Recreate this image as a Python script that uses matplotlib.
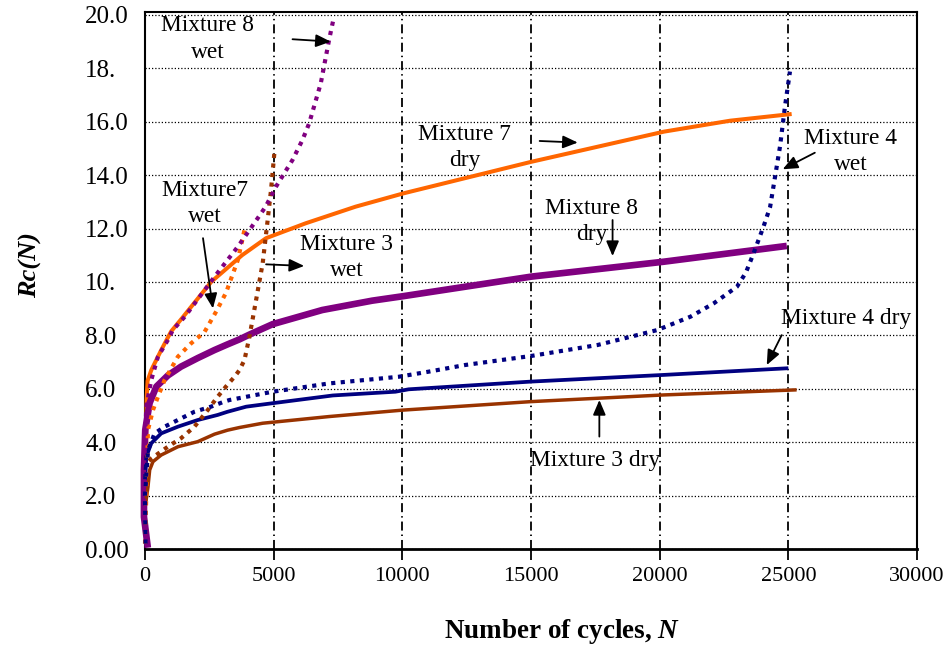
import matplotlib
matplotlib.use("Agg")
import matplotlib.pyplot as plt

plt.rcParams["font.family"] = "Liberation Serif"
plt.rcParams["mathtext.fontset"] = "custom"
plt.rcParams["mathtext.rm"] = "Liberation Serif"
plt.rcParams["mathtext.it"] = "Liberation Serif:italic"
plt.rcParams["mathtext.bf"] = "Liberation Serif:bold"
plt.rcParams["mathtext.bfit"] = "Liberation Serif:italic:bold"

# ---- data: number of cycles N and Rc(N) -------------------------------
m7_dry_n = [40, 60, 100, 244, 630, 1017, 1419, 2579, 3770, 4705, 6251, 8184,
            10050, 15012, 20169, 22743, 25129]
m7_dry_rc = [3.5, 5.6, 6.3, 6.7, 7.45, 8.15, 8.62, 10.01, 11.0, 11.64, 12.2, 12.82,
             13.32, 14.5, 15.63, 16.04, 16.29]

m8_dry_n = [110, -40, -40, 10, 180, 440, 890, 1400, 2050, 2700, 3200, 3670, 4060,
            4960, 6890, 8830, 10050, 15010, 20170, 24940]
m8_dry_rc = [0.05, 1.2, 2.96, 4.46, 5.47, 6.08, 6.5, 6.83, 7.15, 7.45, 7.66, 7.85, 8.03,
             8.42, 8.95, 9.3, 9.47, 10.2, 10.76, 11.35]

m4_dry_n = [0, 50, 244, 630, 1276, 2049, 2822, 3209, 3932, 4960, 7300, 9731, 10245,
            15012, 20169, 25001]
m4_dry_rc = [2.6, 3.46, 3.96, 4.33, 4.58, 4.83, 5.02, 5.14, 5.33, 5.46, 5.75, 5.89,
             5.98, 6.27, 6.52, 6.77]

m3_dry_n = [40, 116, 182, 309, 630, 1280, 2050, 2700, 3209, 3673, 4573, 7152, 10000,
            15012, 20169, 25322]
m3_dry_rc = [1.8, 2.33, 2.96, 3.27, 3.52, 3.83, 4.02, 4.3, 4.45, 4.55, 4.71, 4.96, 5.2,
             5.52, 5.77, 5.96]

m8_wet_n = [50, -40, -40, 50, 244, 503, 889, 1082, 1546, 2706, 3607, 4512, 4705, 5091,
            5733, 6120, 6379, 6831, 7152, 7345]
m8_wet_rc = [0.3, 1.5, 3.0, 5.33, 6.33, 7.2, 7.83, 8.2, 8.7, 10.2, 11.32, 12.57, 12.85,
             13.57, 14.57, 15.32, 15.94, 17.44, 19.06, 19.94]

m7_wet_n = [0, 50, 116, 309, 503, 762, 1276, 1790, 2308, 2770, 3150, 3607, 3866]
m7_wet_rc = [0.2, 2.0, 4.46, 5.2, 5.7, 6.33, 7.2, 7.7, 8.12, 8.9, 9.6, 10.82, 11.95]

m3_wet_n = [150, 259, 889, 1403, 1921, 2436, 2822, 3143, 3479, 3673, 3866, 4059, 4318,
            4573, 4767, 4898, 5026]
m3_wet_rc = [3.3, 3.4, 3.83, 4.15, 4.58, 5.2, 5.7, 6.08, 6.45, 6.7, 7.08, 7.95, 9.33,
             10.7, 12.32, 13.45, 14.82]

m4_wet_n = [20, 0, 116, 375, 762, 1276, 1921, 2563, 3081, 3286, 4960, 7152, 9858, 11018,
            12437, 15012, 17590, 18877, 19910, 21197, 22102, 23002, 23350, 23648, 24034,
            24290, 24421, 24676, 24869, 25063]
m4_wet_rc = [0.2, 2.0, 3.7, 4.33, 4.58, 4.83, 5.14, 5.33, 5.52, 5.58, 5.89, 6.2, 6.45,
             6.64, 6.89, 7.23, 7.64, 7.95, 8.2, 8.7, 9.2, 9.82, 10.35, 11.07, 12.07, 12.8,
             13.57, 15.07, 16.57, 17.88]

x_ticks = [0, 5000, 10000, 15000, 20000, 25000, 30000]
x_tick_labels = ["0", "5000", "10000", "15000", "20000", "25000", "30000"]
y_ticks = [0, 2, 4, 6, 8, 10, 12, 14, 16, 18, 20]
y_tick_labels = ["0.00", "2.0", "4.0", "6.0", "8.0", "10.", "12.0", "14.0", "16.0",
                 "18.", "20.0"]

ORANGE = "#FF6600"
PURPLE = "#800080"
NAVY = "#000080"
BROWN = "#993300"

# ---- figure -------------------------------------------------------------
fig = plt.figure(figsize=(9.47, 6.46), dpi=100)
ax = fig.add_axes([145 / 947, 1 - 549 / 646, 772 / 947, 537 / 646])
ax.set_xlim(0, 30000)
ax.set_ylim(0, 20.11)

solid = dict(solid_capstyle="butt", solid_joinstyle="round", clip_on=False, zorder=3)
dotted = dict(linestyle=(0, (1, 1.3)), dash_capstyle="butt", clip_on=False, zorder=4)

ax.plot(m7_dry_n, m7_dry_rc, color=ORANGE, lw=2.9, **solid)
ax.plot(m8_dry_n, m8_dry_rc, color=PURPLE, lw=4.8, **solid)
ax.plot(m4_dry_n, m4_dry_rc, color=NAVY, lw=2.7, **solid)
ax.plot(m3_dry_n, m3_dry_rc, color=BROWN, lw=2.5, **solid)

ax.plot(m7_wet_n, m7_wet_rc, color=ORANGE, lw=3.0, **dotted)
ax.plot(m3_wet_n, m3_wet_rc, color=BROWN, lw=3.0, **dotted)
ax.plot(m8_wet_n, m8_wet_rc, color=PURPLE, lw=3.0, **dotted)
ax.plot(m4_wet_n, m4_wet_rc, color=NAVY, lw=3.0, **dotted)

# grid: dotted horizontals, dash-dot verticals
ax.set_axisbelow(True)
ax.grid(axis="y", color="black", lw=0.9, linestyle=(0, (1, 1.6)))
ax.grid(axis="x", color="black", lw=1.3, linestyle=(0, (5, 2.2, 0.8, 2.2)))

for side in ["left", "right", "top", "bottom"]:
    ax.spines[side].set_color("black")
    ax.spines[side].set_linewidth(1.5)
ax.spines["bottom"].set_linewidth(2.0)

ax.set_xticks(x_ticks)
ax.set_xticklabels(x_tick_labels)
ax.set_yticks(y_ticks)
ax.set_yticklabels(y_tick_labels)
ax.tick_params(axis="x", direction="out", length=8, width=1.3, labelsize=16, pad=5,
               colors="black")
ax.tick_params(axis="y", length=0, labelsize=18, pad=43)
for lbl in ax.get_yticklabels():
    lbl.set_horizontalalignment("left")

fig.text(30 / 947, 1 - 265 / 646, "Rc(N)", rotation=90, ha="center", va="center",
         fontsize=19, fontweight="bold", fontstyle="italic")
fig.text(562 / 947, 1 - 632 / 646, r"Number of cycles, $\mathbfit{N}$",
         ha="center", va="center", fontsize=19.5, fontweight="bold")

# ---- curve labels with arrows -------------------------------------------
labels = [
    ("Mixture 8\nwet", (2436, 19.1), (5733, 19.09), (7218, 19.0)),
    ("Mixture7\nwet", (2320, 12.94), (2254, 11.64), (2640, 9.01)),
    ("Mixture 3\nwet", (7848, 10.92), (4705, 10.66), (6186, 10.6)),
    ("Mixture 7\ndry", (12410, 15.05), (15336, 15.28), (16817, 15.22)),
    ("Mixture 8\ndry", (17358, 12.28), (18170, 12.32), (18170, 10.97)),
    ("Mixture 4\nwet", (27410, 14.87), (26030, 14.84), (24781, 14.22)),
    ("Mixture 4 dry", (27263, 8.65), (24742, 8.01), (24162, 6.89)),
    ("Mixture 3 dry", (17493, 3.30), (17656, 4.21), (17656, 5.58)),
]
for text, pos, tail, tip in labels:
    ax.text(pos[0], pos[1], text, ha="center", va="center", multialignment="center",
            fontsize=16.8, linespacing=1.32, zorder=6)
    ax.annotate("", xy=tip, xytext=tail, zorder=6,
                arrowprops=dict(arrowstyle="-|>,head_length=0.75,head_width=0.32",
                                color="black", lw=1.3, shrinkA=0, shrinkB=0,
                                mutation_scale=12))

fig.savefig("out.png", dpi=100, facecolor="white")
